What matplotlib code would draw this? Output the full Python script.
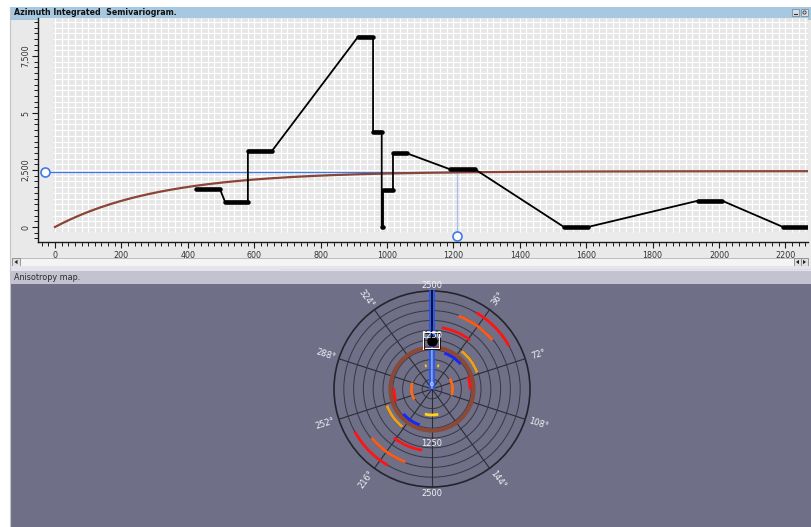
import numpy as np
import matplotlib
matplotlib.use("Agg")
import matplotlib.pyplot as plt
from matplotlib.patches import Rectangle, Circle, Arc, Polygon

W, H = 811, 527

# ---------------- semivariogram (lag bins) ----------------
lag_start = [425, 512, 581, 913, 958, 984, 988, 1018, 1190, 1533, 1937, 2193]
lag_end = [497, 581, 654, 958, 984, 988, 1018, 1060, 1265, 1605, 2009, 2265]
gamma = [1654, 1110, 3346, 8346, 4180, 0, 1623, 3232, 2531, 0, 1154, 0]

# fitted exponential model
model_sill = 2450
model_range = 950

# cursor position (lag, semivariance)
cursor_lag = 1212
cursor_gamma = 2425

x_ticks = [0, 200, 400, 600, 800, 1000, 1200, 1400, 1600, 1800, 2000, 2200]
x_tick_labels = ["0", "200", "400", "600", "800", "1000", "1200", "1400",
                 "1600", "1800", "2000", "2200"]
y_ticks = [0, 2500, 5000, 7500]
y_tick_labels = ["0", "2,500", "5", "7,500"]

# ---------------- anisotropy map ----------------
map_max_lag = 2500
ring_step = 250
spoke_azimuths = [0, 36, 72, 108, 144, 180, 216, 252, 288, 324]
range_ring_lag = 1060

# arcs (lag, azimuth from, azimuth to, colour); each one also appears at +180 deg
arc_lag = [2250, 1980, 1580, 1225, 965, 970, 523]
arc_az_from = [30, 20, 9, 38, 19, 71, 60]
arc_az_to = [61, 51, 38, 70, 49, 91, 108]
arc_colors = ["#ff1414", "#ff5a12", "#ff1414", "#f0a010", "#1428ff", "#ff1414", "#ff6a12"]

# yellow marks near the centre
yellow_lag = [663, 612, 612]
yellow_az_from = [166, 343, 13]
yellow_az_to = [196, 347, 17]


def px_rect(x0, y0, x1, y1):
    return [x0 / W, 1 - y1 / H, (x1 - x0) / W, (y1 - y0) / H]


fig = plt.figure(figsize=(W / 100, H / 100), dpi=100, facecolor="white")

# ---------- window chrome ----------
ch = fig.add_axes([0, 0, 1, 1], zorder=0)
ch.set_xlim(0, W)
ch.set_ylim(H, 0)
ch.axis("off")

ch.add_patch(Rectangle((10, 7), 801, 259, fc="#e9e9ea", ec="none"))
ch.add_patch(Rectangle((10, 7), 801, 11.5, fc="#a6c9e1", ec="none"))
ch.plot([10, 811], [18.5, 18.5], color="#8fb0c8", lw=0.5)
ch.text(14, 12.9, "Azimuth Integrated  Semivariogram.", fontsize=5.7,
        fontweight="bold", color="#111111", va="center", ha="left")
for bx in (792, 801):
    ch.add_patch(Rectangle((bx, 9), 7, 7, fc="#d6dde4", ec="#6f8090", lw=0.5))
ch.plot([794, 797], [14, 14], color="#333", lw=0.8)
ch.add_patch(Circle((804.5, 12.5), 1.6, fc="none", ec="#333", lw=0.6))

# scroll bar under the chart
ch.add_patch(Rectangle((12, 258), 796, 8, fc="#f4f4f4", ec="#b4b4b4", lw=0.6))
ch.add_patch(Rectangle((12, 258), 8, 8, fc="#e0e0e0", ec="#8a8a8a", lw=0.6))
ch.add_patch(Polygon([[17.5, 259.8], [17.5, 264.2], [14.5, 262]], fc="#222", ec="none"))
for bx in (794, 801):
    ch.add_patch(Rectangle((bx, 258), 7, 8, fc="#e0e0e0", ec="#8a8a8a", lw=0.6))
ch.add_patch(Polygon([[799, 259.8], [799, 264.2], [796, 262]], fc="#222", ec="none"))
ch.add_patch(Polygon([[803, 259.8], [803, 264.2], [806, 262]], fc="#222", ec="none"))

# splitter
ch.add_patch(Rectangle((10, 266), 801, 5, fc="#e4e4ea", ec="none"))
ch.plot([280, 811], [269, 269], color="#d0d0d8", lw=0.6, ls=(0, (1, 1)))

# anisotropy panel header and body
ch.add_patch(Rectangle((10, 271), 801, 13, fc="#c3c3d0", ec="none"))
ch.text(14, 277.6, "Anisotropy map.", fontsize=5.8, color="#2a2a2a",
        va="center", ha="left")
ch.add_patch(Rectangle((10, 284), 801, 243, fc="#6f7088", ec="none"))
ch.plot([10, 10], [7, 527], color="#c4c4c8", lw=0.8)

# ---------- semivariogram chart ----------
px_per_lag = 0.332
x0_px = 55
px_per_gamma = 57 / 2500
y0_px = 227


def lag_of(px):
    return (px - x0_px) / px_per_lag


def gam_of(py):
    return (y0_px - py) / px_per_gamma


ax = fig.add_axes(px_rect(38, 18, 808, 242), zorder=2)
ax.set_facecolor("#ebebeb")
xl = (lag_of(38), lag_of(808))
yl = (gam_of(242), gam_of(18))
ax.set_xlim(*xl)
ax.set_ylim(*yl)

gx0, gy0 = lag_of(53), gam_of(232)
ax.add_patch(Rectangle((gx0, gy0), xl[1] - gx0, yl[1] - gy0,
                       fc="#e6e6e6", ec="none", zorder=0))
ax.vlines(np.arange(0, xl[1], 20), gy0, yl[1], color="white", lw=0.85, zorder=0.5)
ax.hlines(np.arange(0, yl[1], 250), gx0, xl[1], color="white", lw=0.85, zorder=0.5)

for s in ("top", "right"):
    ax.spines[s].set_visible(False)
for s in ("left", "bottom"):
    ax.spines[s].set_color("#1a1a1a")
    ax.spines[s].set_linewidth(1.0)

ax.set_xticks(x_ticks)
ax.set_xticklabels(x_tick_labels)
ax.set_xticks(np.arange(-40, xl[1], 20), minor=True)
ax.set_yticks(y_ticks)
ax.set_yticklabels(y_tick_labels, rotation=90, va="center")
ax.set_yticks(np.arange(-500, yl[1], 250), minor=True)
ax.tick_params(axis="both", which="major", length=4.5, width=0.8, color="#1a1a1a",
               labelsize=5.8, labelcolor="#333333")
ax.tick_params(axis="both", which="minor", length=3.2, width=0.7, color="#1a1a1a")
ax.tick_params(axis="x", pad=2)
ax.tick_params(axis="y", pad=1)

# model curve
h = np.linspace(0, xl[1], 400)
ax.plot(h, model_sill * (1 - np.exp(-3 * h / model_range)),
        color="#8a4536", lw=1.6, zorder=3)

# cursor cross-hair
ax.plot([lag_of(45), cursor_lag], [cursor_gamma, cursor_gamma],
        color="#3f7ae8", lw=0.9, zorder=2.5)
ax.plot([cursor_lag, cursor_lag], [cursor_gamma, gam_of(236)],
        color="#a6bff0", lw=0.9, zorder=2.5)
ax.plot([lag_of(45)], [cursor_gamma], "o", ms=6.5, mfc="white", mec="#3f7ae8",
        mew=1.2, clip_on=False, zorder=6)
ax.plot([cursor_lag], [gam_of(236)], "o", ms=6.5, mfc="white", mec="#3f7ae8",
        mew=1.2, clip_on=False, zorder=6)

# experimental semivariogram: thin joins + thick bin extents
xs, ys = [], []
for a, b, g in zip(lag_start, lag_end, gamma):
    xs += [a, b]
    ys += [g, g]
ax.plot(xs, ys, color="black", lw=1.3, zorder=4)
ax.hlines(gamma, lag_start, lag_end, color="black", lw=3.3,
          capstyle="round", zorder=5)

# ---------- anisotropy map ----------
cx, cy, rad_px = 432, 389, 98
half_px = 120
pax = fig.add_axes(px_rect(cx - half_px, cy - half_px, cx + half_px, cy + half_px), zorder=3)
L = half_px / rad_px * map_max_lag
pax.set_xlim(-L, L)
pax.set_ylim(-L, L)
pax.set_aspect("equal")
pax.axis("off")


def xy(r, az):
    t = np.radians(az)
    return r * np.sin(t), r * np.cos(t)


for k in range(1, map_max_lag // ring_step + 1):
    r = k * ring_step
    outer = r == map_max_lag
    pax.add_patch(Circle((0, 0), r, fill=False,
                         ec="#24242c" if outer else "#3a3a46",
                         lw=1.2 if outer else 0.75, zorder=1))
for a in spoke_azimuths:
    x, y = xy(map_max_lag, a)
    pax.plot([0, x], [0, y], color="#2c2c36", lw=0.8, zorder=1)

pax.add_patch(Circle((0, 0), range_ring_lag, fill=False, ec="#8b4a38", lw=3.0, zorder=2))

for r, a1, a2, c in zip(arc_lag, arc_az_from, arc_az_to, arc_colors):
    for off in (0, 180):
        pax.add_patch(Arc((0, 0), 2 * r, 2 * r, theta1=90 - (a2 + off),
                          theta2=90 - (a1 + off), color=c, lw=2.0, zorder=3))
for r, a1, a2 in zip(yellow_lag, yellow_az_from, yellow_az_to):
    pax.add_patch(Arc((0, 0), 2 * r, 2 * r, theta1=90 - a2, theta2=90 - a1,
                      color="#ffd21a", lw=2.0, zorder=3))

# selected direction band
bw = 58
pax.add_patch(Rectangle((-bw, 0), 2 * bw, map_max_lag, fc="#9cb8ff", ec="none",
                        alpha=0.7, zorder=4))
pax.plot([-bw, -bw], [0, map_max_lag], color="#1f55ff", lw=1.3, zorder=4)
pax.plot([bw, bw], [0, map_max_lag], color="#1f55ff", lw=1.3, zorder=4)
pax.plot([0, 0], [cursor_lag, map_max_lag], color="#101018", lw=1.4, zorder=4)

# cursor marker along the band
pax.plot([0], [cursor_lag], "s", ms=11, mfc="none", mec="white", mew=1.4, zorder=5)
pax.plot([0], [cursor_lag], "s", ms=11, mfc="none", mec="#111", mew=0.7, zorder=5)
pax.plot([0], [cursor_lag], "o", ms=6.5, color="black", zorder=6)

# labels
pax.text(0, 60, "0", fontsize=4.5, color="white", ha="center", va="bottom", zorder=6)
lab_r = 112 / rad_px * map_max_lag
for a in spoke_azimuths:
    if a in (0, 180):
        continue
    x, y = xy(lab_r, a)
    rot = ((90 - a + 90) % 180) - 90
    pax.text(x, y, f"{a}°", fontsize=6, color="#f2f2f6", ha="center", va="center",
             rotation=rot, rotation_mode="anchor", zorder=6)
for r_lab, txt in ((2630, "2500"), (1360, "1250"), (-1380, "1250"), (-2660, "2500")):
    pax.text(0, r_lab, txt, fontsize=6, color="#f2f2f6", ha="center", va="center",
             zorder=6)

fig.savefig("out.png", dpi=100, facecolor="white")
